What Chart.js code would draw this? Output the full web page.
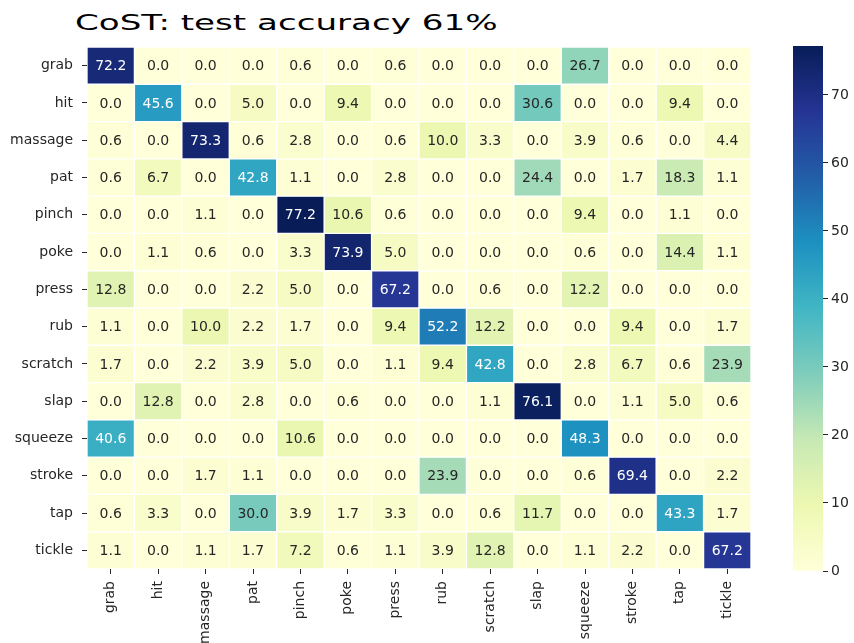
<!DOCTYPE html>
<html>
<head>
<meta charset="utf-8">
<script src="https://cdn.jsdelivr.net/npm/chart.js@4"></script>
<style>
  html, body { margin: 0; padding: 0; background: #fff; }
  #wrap { position: relative; width: 854px; height: 643px; overflow: hidden; }
  #title {
    position: absolute; left: 75px; top: 10px;
    font: 22px "DejaVu Sans"; color: #000; white-space: nowrap;
    transform: scaleX(1.55); transform-origin: left top;
  }
  #heat { position: absolute; left: 0; top: 0; }
  #cbar { position: absolute; left: 793px; top: 0; }
</style>
</head>
<body>
<div id="wrap">
  <div id="title">CoST: test accuracy 61%</div>
  <canvas id="heat" width="854" height="643"></canvas>
  <canvas id="cbar" width="61" height="643"></canvas>
</div>
<script>
// classes (rows = true label, columns = predicted label)
const predicted = ["grab", "hit", "massage", "pat", "pinch", "poke", "press", "rub", "scratch", "slap", "squeeze", "stroke", "tap", "tickle"];
const actual = ["grab", "hit", "massage", "pat", "pinch", "poke", "press", "rub", "scratch", "slap", "squeeze", "stroke", "tap", "tickle"];

// percentages per row
const grab    = [72.2, 0.0, 0.0, 0.0, 0.6, 0.0, 0.6, 0.0, 0.0, 0.0, 26.7, 0.0, 0.0, 0.0];
const hit     = [0.0, 45.6, 0.0, 5.0, 0.0, 9.4, 0.0, 0.0, 0.0, 30.6, 0.0, 0.0, 9.4, 0.0];
const massage = [0.6, 0.0, 73.3, 0.6, 2.8, 0.0, 0.6, 10.0, 3.3, 0.0, 3.9, 0.6, 0.0, 4.4];
const pat     = [0.6, 6.7, 0.0, 42.8, 1.1, 0.0, 2.8, 0.0, 0.0, 24.4, 0.0, 1.7, 18.3, 1.1];
const pinch   = [0.0, 0.0, 1.1, 0.0, 77.2, 10.6, 0.6, 0.0, 0.0, 0.0, 9.4, 0.0, 1.1, 0.0];
const poke    = [0.0, 1.1, 0.6, 0.0, 3.3, 73.9, 5.0, 0.0, 0.0, 0.0, 0.6, 0.0, 14.4, 1.1];
const press   = [12.8, 0.0, 0.0, 2.2, 5.0, 0.0, 67.2, 0.0, 0.6, 0.0, 12.2, 0.0, 0.0, 0.0];
const rub     = [1.1, 0.0, 10.0, 2.2, 1.7, 0.0, 9.4, 52.2, 12.2, 0.0, 0.0, 9.4, 0.0, 1.7];
const scratch = [1.7, 0.0, 2.2, 3.9, 5.0, 0.0, 1.1, 9.4, 42.8, 0.0, 2.8, 6.7, 0.6, 23.9];
const slap    = [0.0, 12.8, 0.0, 2.8, 0.0, 0.6, 0.0, 0.0, 1.1, 76.1, 0.0, 1.1, 5.0, 0.6];
const squeeze = [40.6, 0.0, 0.0, 0.0, 10.6, 0.0, 0.0, 0.0, 0.0, 0.0, 48.3, 0.0, 0.0, 0.0];
const stroke  = [0.0, 0.0, 1.7, 1.1, 0.0, 0.0, 0.0, 23.9, 0.0, 0.0, 0.6, 69.4, 0.0, 2.2];
const tap     = [0.6, 3.3, 0.0, 30.0, 3.9, 1.7, 3.3, 0.0, 0.6, 11.7, 0.0, 0.0, 43.3, 1.7];
const tickle  = [1.1, 0.0, 1.1, 1.7, 7.2, 0.6, 1.1, 3.9, 12.8, 0.0, 1.1, 2.2, 0.0, 67.2];

const matrix = [grab, hit, massage, pat, pinch, poke, press, rub, scratch, slap, squeeze, stroke, tap, tickle];
const colorbarTicks = [0, 10, 20, 30, 40, 50, 60, 70];

// YlGnBu
const ylGnBu = ["#ffffd9", "#edf8b1", "#c7e9b4", "#7fcdbb", "#41b6c4", "#1d91c0", "#225ea8", "#253494", "#081d58"];
const vmax = Math.max(...matrix.flat());
const textDark = "#262626";
const font = { family: "DejaVu Sans", size: 14 };

function hexToRgb(h) {
  return [1, 3, 5].map((i) => parseInt(h.slice(i, i + 2), 16));
}

function colourRgb(v) {
  const t = Math.min(Math.max(v / vmax, 0), 1) * (ylGnBu.length - 1);
  const i = Math.min(Math.floor(t), ylGnBu.length - 2);
  const f = t - i;
  const a = hexToRgb(ylGnBu[i]);
  const b = hexToRgb(ylGnBu[i + 1]);
  return a.map((c, k) => Math.round(c + (b[k] - c) * f));
}

function colour(v) {
  const [r, g, b] = colourRgb(v);
  return `rgb(${r}, ${g}, ${b})`;
}

// same rule seaborn uses to pick the annotation colour
function luminance(v) {
  const lin = colourRgb(v).map((c) => {
    c = c / 255;
    return c <= 0.03928 ? c / 12.92 : Math.pow((c + 0.055) / 1.055, 2.4);
  });
  return 0.2126 * lin[0] + 0.7152 * lin[1] + 0.0722 * lin[2];
}

const tickGrid = {
  display: true,
  drawOnChartArea: false,
  drawTicks: true,
  tickLength: 5,
  color: textDark,
  lineWidth: 1,
};

// write the numbers in each cell
const annotate = {
  id: "annotate",
  afterDatasetsDraw(chart) {
    const ctx = chart.ctx;
    ctx.save();
    ctx.font = "14px 'DejaVu Sans'";
    ctx.textAlign = "center";
    ctx.textBaseline = "middle";
    chart.data.datasets.forEach((ds, r) => {
      const meta = chart.getDatasetMeta(r);
      meta.data.forEach((bar, c) => {
        const v = matrix[r][c];
        const p = bar.getCenterPoint();
        ctx.fillStyle = luminance(v) > 0.408 ? textDark : "#ffffff";
        ctx.fillText(v.toFixed(1), p.x, p.y + 1);
      });
    });
    ctx.restore();
  },
};

new Chart(document.getElementById("heat"), {
  type: "bar",
  data: {
    labels: predicted,
    datasets: actual.map((name, r) => ({
      label: name,
      data: predicted.map(() => 1),
      backgroundColor: matrix[r].map(colour),
      borderColor: "#ffffff",
      borderWidth: 1,
      borderSkipped: false,
      categoryPercentage: 1,
      barPercentage: 1,
    })),
  },
  options: {
    responsive: false,
    devicePixelRatio: 1,
    animation: false,
    layout: { padding: { left: 0, top: 47, right: 103, bottom: 0 } },
    plugins: {
      legend: { display: false },
      tooltip: { enabled: false },
      title: { display: false },
    },
    scales: {
      x: {
        type: "category",
        stacked: true,
        offset: true,
        grid: { ...tickGrid, offset: false },
        border: { display: false },
        ticks: { font, color: textDark, minRotation: 90, maxRotation: 90, autoSkip: false, padding: 7 },
        afterFit: (s) => { s.height = 74; },
      },
      y: {
        type: "linear",
        stacked: true,
        min: 0,
        max: actual.length,
        reverse: true,
        grid: tickGrid,
        border: { display: false },
        afterBuildTicks: (s) => {
          s.ticks = actual.map((_, i) => ({ value: i + 0.5 }));
        },
        ticks: {
          font,
          color: textDark,
          autoSkip: false,
          padding: 9,
          callback: (value, index) => actual[index],
        },
        afterFit: (s) => { s.width = 87; },
      },
    },
  },
  plugins: [annotate],
});

// colour bar
new Chart(document.getElementById("cbar"), {
  type: "bar",
  data: {
    labels: ["scale"],
    datasets: [{
      data: [[0, vmax]],
      borderWidth: 0,
      categoryPercentage: 1,
      barPercentage: 1,
      backgroundColor: (c) => {
        const area = c.chart.chartArea;
        if (!area) return ylGnBu[0];
        const g = c.chart.ctx.createLinearGradient(0, area.bottom, 0, area.top);
        ylGnBu.forEach((col, i) => g.addColorStop(i / (ylGnBu.length - 1), col));
        return g;
      },
    }],
  },
  options: {
    responsive: false,
    devicePixelRatio: 1,
    animation: false,
    layout: { padding: { left: 0, top: 46, right: 0, bottom: 72 } },
    plugins: { legend: { display: false }, tooltip: { enabled: false } },
    scales: {
      x: { display: false },
      y: {
        position: "right",
        min: 0,
        max: vmax,
        grid: tickGrid,
        border: { display: false },
        afterBuildTicks: (s) => {
          s.ticks = colorbarTicks.map((v) => ({ value: v }));
        },
        ticks: { font, color: textDark, padding: 3 },
        afterFit: (s) => { s.width = 31; },
      },
    },
  },
});
</script>
</body>
</html>
